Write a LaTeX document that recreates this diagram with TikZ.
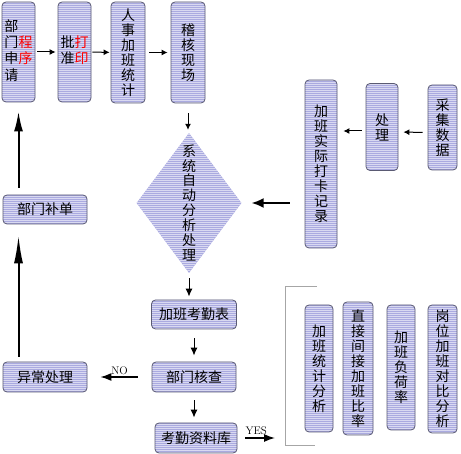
\documentclass[tikz,border=0pt]{standalone}
\usepackage{fontspec}
\newfontfamily\cjk{Noto Sans CJK SC}
\usetikzlibrary{positioning,arrows.meta,shapes.geometric,patterns.meta}
\definecolor{boxfill}{RGB}{170,170,224}
\definecolor{boxline}{RGB}{90,90,115}

\tikzset{
  flowbox/.style={draw=boxline, line width=0.8pt, rounded corners=4pt,
    preaction={fill=boxfill}, pattern={Lines[angle=0,distance=2pt,line width=0.9pt]},
    pattern color=white!55!boxfill,
    inner sep=0pt, align=center, font=\cjk\fontsize{14}{15}\selectfont},
  arr/.style={-{Latex[length=6pt,width=6pt]}, line width=1pt},
  midarr/.style={-{Latex[length=8pt,width=7pt]}, line width=1pt},
  sidearr/.style={-{Latex[length=11pt,width=8pt]}, line width=1.3pt},
  bigarr/.style={-{Latex[length=12pt,width=10pt]}, line width=1.8pt},
}

\begin{document}
\begin{tikzpicture}[x=1pt,y=-1pt,>=Latex]
    \useasboundingbox (0,0) rectangle (461,454);

    % top row
    \node[flowbox, minimum width=33pt, minimum height=100pt] (apply) at (18.5,52)
        {\begin{tabular}{@{}c@{}c@{}}部&\\门&\textcolor{red}{程}\\申&\textcolor{red}{序}\\请&\end{tabular}};
    \node[flowbox, minimum width=33pt, minimum height=100pt] (approve) at (74.5,52)
        {\begin{tabular}{@{}c@{}c@{}}批&\textcolor{red}{打}\\准&\textcolor{red}{印}\end{tabular}};
    \node[flowbox, minimum width=34pt, minimum height=101pt] (stat) at (128,52.5) {人\\事\\加\\班\\统\\计};
    \node[flowbox, minimum width=34pt, minimum height=101pt] (audit) at (188,52.5) {稽\\核\\现\\场};

    % centre
    \node[shape=diamond, aspect=0.75, minimum width=105pt, minimum height=140pt, inner sep=0pt,
        preaction={fill=boxfill}, pattern={Lines[angle=0,distance=2pt,line width=0.9pt]},
        pattern color=white!55!boxfill,
        align=center, font=\cjk\fontsize{14}{15}\selectfont] (sys) at (189,203)
        {系\\统\\自\\动\\分\\析\\处\\理};

    % right column
    \node[flowbox, minimum width=32pt, minimum height=168pt] (rec) at (321,164) {加\\班\\实\\际\\打\\卡\\记\\录};
    \node[flowbox, minimum width=32pt, minimum height=87pt] (proc) at (382,127) {处\\理};
    \node[flowbox, minimum width=29pt, minimum height=85pt] (collect) at (442.5,127.5) {采\\集\\数\\据};

    % left column
    \node[flowbox, minimum width=84pt, minimum height=29pt] (supp) at (45,209.5) {部门补单};
    \node[flowbox, minimum width=84pt, minimum height=30pt] (abnormal) at (45,377) {异常处理};

    % bottom column
    \node[flowbox, minimum width=85pt, minimum height=29pt] (table) at (194,314.5) {加班考勤表};
    \node[flowbox, minimum width=84pt, minimum height=30pt] (check) at (194,377) {部门核查};
    \node[flowbox, minimum width=82pt, minimum height=30pt] (db) at (196,438) {考勤资料库};

    % analysis
    \node[flowbox, minimum width=28pt, minimum height=127pt] (ana1) at (319,368.5) {加\\班\\统\\计\\分\\析};
    \node[flowbox, minimum width=30pt, minimum height=133pt] (ana2) at (358,368.5) {直\\接\\间\\接\\加\\班\\比\\率};
    \node[flowbox, minimum width=28pt, minimum height=125pt] (ana3) at (401,367.5) {加\\班\\负\\荷\\率};
    \node[flowbox, minimum width=29pt, minimum height=128pt] (ana4) at (442.5,369) {岗\\位\\加\\班\\对\\比\\分\\析};
    \draw[gray!70, line width=1pt] (317,287) -| (285,446) -- (315,446);
    \coordinate (brk) at (275,438);

    \draw[arr, shorten <=2pt, shorten >=2pt] (apply) -- (approve);
    \draw[arr, shorten <=1pt, shorten >=1pt] (approve) -- (stat);
    \draw[arr, shorten <=4pt, shorten >=3pt] (stat) -- (audit);
    \draw[arr, shorten <=10pt, shorten >=3pt] (audit.south) -- (audit.south |- sys.north);

    \draw[arr, shorten <=5pt, shorten >=5pt] ([yshift=-5pt]collect.west) -- ([yshift=-5pt]proc.east);
    \draw[arr, shorten <=4pt, shorten >=6pt] ([yshift=-4pt]proc.west) -- ([yshift=-4pt]proc.west -| rec.east);
    \draw[bigarr, shorten <=15pt, shorten >=10pt] (sys.east -| rec.west) -- (sys.east);

    \draw[-{Latex[length=20pt,width=9pt]}, line width=2pt, shorten <=7pt, shorten >=9pt]
        (supp.north -| apply.south) -- (apply.south);
    \draw[-{Latex[length=28pt,width=9pt]}, line width=2pt, shorten <=5pt, shorten >=11pt]
        (abnormal.north -| apply.south) -- (supp.south -| apply.south);

    \draw[midarr, shorten <=5pt, shorten >=3pt] (sys.south) -- (sys.south |- table.north);
    \draw[midarr, shorten <=9pt, shorten >=6pt] (table.south) -- (check.north);
    \draw[midarr, shorten <=8pt, shorten >=5pt] (check.south) -- (check.south |- db.north);
    \draw[sidearr, shorten <=14pt, shorten >=13pt] (check) --
        node[above, font=\fontsize{11}{12}\selectfont, inner sep=2pt] {NO} (abnormal);
    \draw[sidearr, shorten <=8pt] (db) --
        node[above, font=\fontsize{11}{12}\selectfont, inner sep=3pt] {YES} (brk);
\end{tikzpicture}
\end{document}
